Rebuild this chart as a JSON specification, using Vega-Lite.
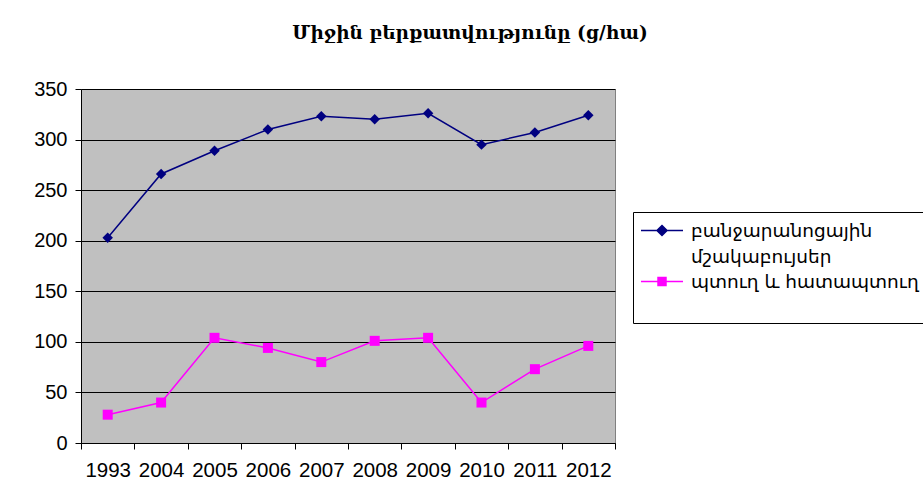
{
  "$schema": "https://vega.github.io/schema/vega-lite/v6.json",
  "width": 534,
  "height": 354,
  "autosize": {"type": "none"},
  "padding": {"left": 81, "top": 89, "right": 308, "bottom": 57},
  "background": "white",
  "title": {
    "text": "Միջին բերքատվությունը (ց/հա)",
    "font": "DejaVu Serif",
    "fontSize": 18.5,
    "fontWeight": "bold",
    "color": "black",
    "anchor": "middle",
    "frame": "group",
    "dx": 122,
    "offset": 37
  },
  "data": {
    "values": [
      {"year": "1993", "series": "բանջարանոցային մշակաբույսեր", "value": 203},
      {"year": "2004", "series": "բանջարանոցային մշակաբույսեր", "value": 266},
      {"year": "2005", "series": "բանջարանոցային մշակաբույսեր", "value": 289},
      {"year": "2006", "series": "բանջարանոցային մշակաբույսեր", "value": 310},
      {"year": "2007", "series": "բանջարանոցային մշակաբույսեր", "value": 323},
      {"year": "2008", "series": "բանջարանոցային մշակաբույսեր", "value": 320},
      {"year": "2009", "series": "բանջարանոցային մշակաբույսեր", "value": 326},
      {"year": "2010", "series": "բանջարանոցային մշակաբույսեր", "value": 295},
      {"year": "2011", "series": "բանջարանոցային մշակաբույսեր", "value": 307},
      {"year": "2012", "series": "բանջարանոցային մշակաբույսեր", "value": 324},
      {"year": "1993", "series": "պտուղ և հատապտուղ", "value": 28},
      {"year": "2004", "series": "պտուղ և հատապտուղ", "value": 40},
      {"year": "2005", "series": "պտուղ և հատապտուղ", "value": 104},
      {"year": "2006", "series": "պտուղ և հատապտուղ", "value": 94},
      {"year": "2007", "series": "պտուղ և հատապտուղ", "value": 80},
      {"year": "2008", "series": "պտուղ և հատապտուղ", "value": 101},
      {"year": "2009", "series": "պտուղ և հատապտուղ", "value": 104},
      {"year": "2010", "series": "պտուղ և հատապտուղ", "value": 40},
      {"year": "2011", "series": "պտուղ և հատապտուղ", "value": 73},
      {"year": "2012", "series": "պտուղ և հատապտուղ", "value": 96}
    ]
  },
  "encoding": {
    "x": {
      "field": "year",
      "type": "ordinal",
      "sort": null,
      "scale": {"type": "band", "paddingInner": 0, "paddingOuter": 0},
      "axis": {
        "title": null,
        "labelAngle": 0,
        "tickBand": "extent",
        "labelFont": "Liberation Sans",
        "labelFontSize": 20.5,
        "labelColor": "black",
        "labelPadding": 11,
        "tickColor": "black",
        "tickSize": 6,
        "domainColor": "black",
        "grid": false,
        "labelOverlap": false
      }
    },
    "y": {
      "field": "value",
      "type": "quantitative",
      "scale": {"domain": [0, 350], "nice": false},
      "axis": {
        "title": null,
        "values": [0, 50, 100, 150, 200, 250, 300, 350],
        "labelFont": "Liberation Sans",
        "labelFontSize": 20,
        "labelColor": "black",
        "labelPadding": 8,
        "tickColor": "black",
        "tickSize": 6,
        "domainColor": "black",
        "grid": true,
        "gridColor": "black",
        "gridOpacity": 1,
        "gridWidth": 1
      }
    }
  },
  "layer": [
    {
      "mark": {"type": "line", "strokeWidth": 1.5},
      "encoding": {
        "color": {
          "field": "series",
          "type": "nominal",
          "sort": null,
          "scale": {
            "domain": ["բանջարանոցային մշակաբույսեր", "պտուղ և հատապտուղ", " "],
            "range": ["#000080", "#ff00ff", "transparent"]
          },
          "legend": {
            "title": null,
            "orient": "none",
            "legendX": 552,
            "legendY": 123,
            "padding": 7,
            "strokeColor": "black",
            "fillColor": "white",
            "symbolType": "M-1,0L3,0",
            "symbolSize": 441,
            "symbolStrokeWidth": 1.5,
            "labelFont": "DejaVu Sans",
            "labelFontSize": 18.5,
            "labelColor": "black",
            "labelLimit": 400,
            "labelOffset": 28,
            "rowPadding": 4,
            "labelExpr": "datum.label == 'բանջարանոցային մշակաբույսեր' ? ['բանջարանոցային', 'մշակաբույսեր'] : datum.label",
            "encode": {
              "symbols": {
                "update": {
                  "shape": {"signal": "datum.value == 'բանջարանոցային մշակաբույսեր' ? 'M-1,0L3,0M1,-0.48L1.48,0L1,0.48L0.52,0Z' : datum.value == 'պտուղ և հատապտուղ' ? 'M-1,0L3,0M0.62,-0.38L1.38,-0.38L1.38,0.38L0.62,0.38Z' : 'M-1,-0.6L-1,0.6'"},
                  "fill": {"signal": "datum.value == 'բանջարանոցային մշակաբույսեր' ? '#000080' : datum.value == 'պտուղ և հատապտուղ' ? '#ff00ff' : 'transparent'"},
                  "fillOpacity": {"value": 1}
                }
              },
              "labels": {
                "update": {
                  "lineHeight": {"value": 26}
                }
              }
            }
          }
        }
      }
    },
    {
      "transform": [{"filter": "datum.series == 'բանջարանոցային մշակաբույսեր'"}],
      "mark": {"type": "point", "shape": "diamond", "filled": true, "opacity": 1, "color": "#000080", "size": 110}
    },
    {
      "transform": [{"filter": "datum.series == 'պտուղ և հատապտուղ'"}],
      "mark": {"type": "point", "shape": "square", "filled": true, "opacity": 1, "color": "#ff00ff", "size": 100}
    }
  ],
  "config": {
    "view": {"fill": "#c0c0c0", "stroke": "#808080", "strokeWidth": 1}
  }
}
